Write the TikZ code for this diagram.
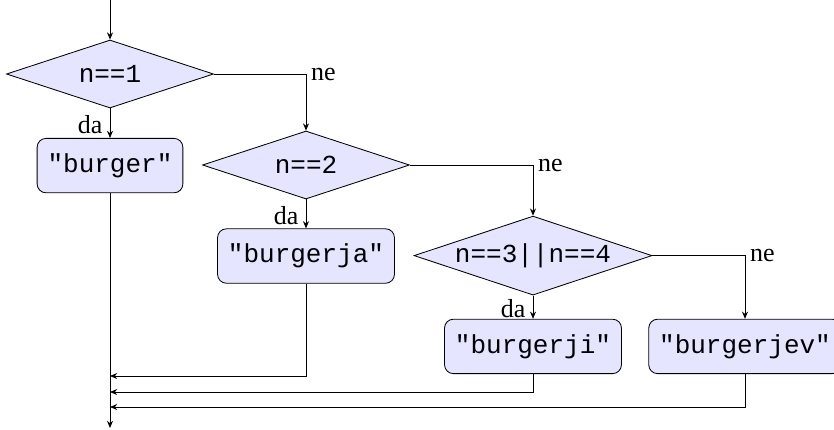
\documentclass[tikz,border=0pt]{standalone}
\usepackage{fontspec}
\setmainfont{Liberation Serif}
\setmonofont{Liberation Mono}
\usetikzlibrary{shapes.geometric,arrows.meta}

\newcommand{\flowfont}{\fontsize{18.5}{22}\selectfont}
\tikzset{
    cond/.style={draw, diamond, aspect=3, inner sep=0pt, fill=blue!10, font=\flowfont\ttfamily},
    stmt/.style={draw, rectangle, rounded corners=0.22cm, fill=blue!10, font=\flowfont\ttfamily,
        inner xsep=0.26cm, minimum height=1.36cm},
    lbl/.style={font=\flowfont},
    flow/.style={-{Stealth[length=1.8mm,width=1.5mm]}},
}

\begin{document}
\begin{tikzpicture}[line width=0.6pt]
    \useasboundingbox (0,0) rectangle (20.85,-10.725);

    % conditions
    \coordinate (start) at (2.75,0);
    \node[cond, minimum width=5.175cm, minimum height=1.7cm] (n1) at (2.75,-1.85) {n==1};
    \node[cond, minimum width=5.175cm, minimum height=1.7cm] (n2) at (7.65,-4.125) {n==2};
    \node[cond, minimum width=5.95cm, minimum height=1.975cm] (n3) at (13.325,-6.39) {n==3||n==4};

    % results
    \node[stmt] (b1) at (2.75,-4.14) {"burger"};
    \node[stmt] (b2) at (7.65,-6.4) {"burgerja"};
    \node[stmt] (b3) at (13.325,-8.66) {"burgerji"};
    \node[stmt] (b4) at (18.625,-8.66) {"burgerjev"};

    % branches
    \draw[flow] (start) -- (n1);
    \draw[flow] (n1) -- node[lbl, left, pos=0.55, xshift=-0.06cm] {da} (b1);
    \draw[flow] (n1.east) -| node[lbl, right, pos=0.5] {ne} (n2.north);
    \draw[flow] (n2) -- node[lbl, left, pos=0.55, xshift=-0.06cm] {da} (b2);
    \draw[flow] (n2.east) -| node[lbl, right, pos=0.5] {ne} (n3.north);
    \draw[flow] (n3) -- node[lbl, left, pos=0.55, xshift=-0.06cm] {da} (b3);
    \draw[flow] (n3.east) -| node[lbl, right, pos=0.5] {ne} (b4.north);

    % merging back
    \coordinate (m2) at (2.75,-9.4);
    \coordinate (m3) at (2.75,-9.8);
    \coordinate (m4) at (2.75,-10.175);
    \coordinate (end) at (2.75,-10.7);
    \draw[flow] (b1) -- (end);
    \draw[flow] (b2.south) |- (m2);
    \draw[flow] (b3.south) |- (m3);
    \draw[flow] (b4.south) |- (m4);
\end{tikzpicture}
\end{document}
